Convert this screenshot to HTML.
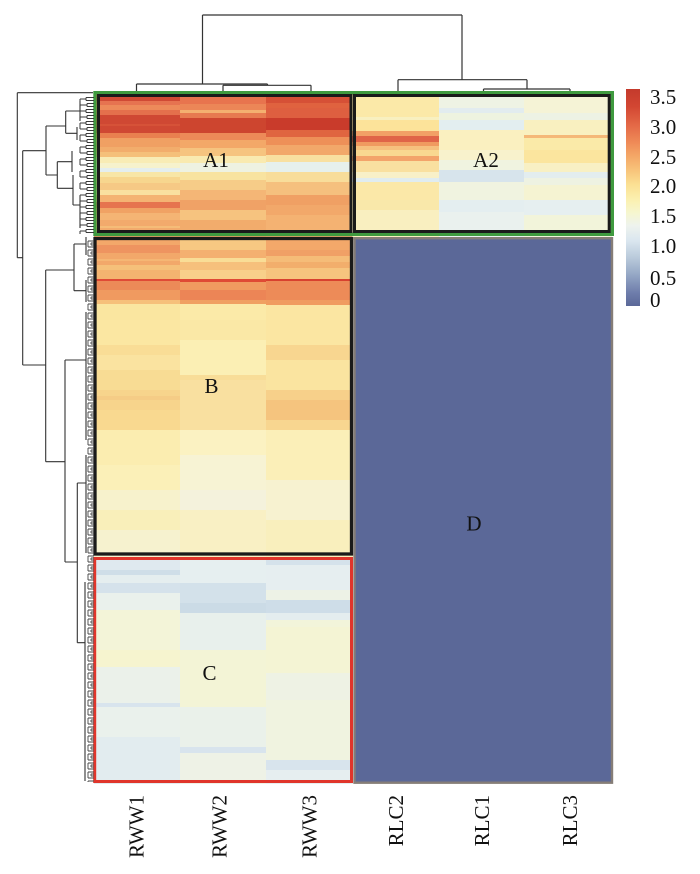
<!DOCTYPE html>
<html><head><meta charset="utf-8"><style>
html,body{margin:0;padding:0;background:#fff;}
#wrap{position:relative;width:700px;height:874px;overflow:hidden;background:#fff;}
.col{position:absolute;top:0;height:784px;}
svg{position:absolute;left:0;top:0;}
text{font-family:"Liberation Serif",serif;fill:#111;}
</style></head><body><div id="wrap">
<div class="col" style="left:94px;width:86px;background:linear-gradient(to bottom,transparent 0 91px,#d04a34 91px 101px,#e67350 101px 105px,#ed8a5a 105px 110px,#e4704c 110px 115px,#cf4833 115px 124px,#d65238 124px 126px,#cf4833 126px 133px,#e9804f 133px 138px,#f0a063 138px 147px,#f2ad6c 147px 152px,#f5c07a 152px 157px,#f8ecb5 157px 163px,#f6f2cc 163px 168px,#e4eeee 168px 172px,#f8e6a6 172px 177px,#f7d68e 177px 183px,#f6c985 183px 190px,#f9e0a0 190px 195px,#f4b373 195px 202px,#e6744f 202px 208px,#f0a264 208px 213px,#f4b474 213px 220px,#f2aa6c 220px 226px,#f5bc78 226px 228px,#f2aa6c 228px 237px,#f3a86a 237px 245px,#ee9460 245px 253px,#f2a86a 253px 259px,#f5b674 259px 261px,#f2a86a 261px 265px,#f5c07a 265px 270px,#f4b470 270px 279px,#e04a36 279px 281px,#ec8a58 281px 290px,#f09a60 290px 300px,#f6c07a 300px 304px,#fae6a0 304px 320px,#fbe7a2 320px 345px,#f9dd96 345px 355px,#fae3a0 355px 370px,#f8dc94 370px 390px,#f7d48c 390px 396px,#f5cc86 396px 400px,#f7d48c 400px 410px,#f9d990 410px 430px,#fbedb0 430px 465px,#fbf0b8 465px 490px,#f7f2cc 490px 510px,#f9efba 510px 530px,#f6f2cf 530px 557px,#dfe9ef 557px 570px,#cfdee8 570px 575px,#e5eeef 575px 583px,#d5e2eb 583px 593px,#eaf1ec 593px 610px,#f3f4d8 610px 650px,#f6f4cf 650px 667px,#ebf1ea 667px 703px,#d8e4ed 703px 707px,#eaf1ec 707px 737px,#e2ecef 737px 784px);"></div>
<div class="col" style="left:180px;width:86px;background:linear-gradient(to bottom,transparent 0 91px,#e8744e 91px 104px,#ec8657 104px 110px,#f4b070 110px 113px,#e77a50 113px 118px,#cd452f 118px 133px,#ed8a58 133px 140px,#f3a868 140px 148px,#f6c47f 148px 156px,#f9eab0 156px 163px,#eef2e2 163px 172px,#f8e3a0 172px 180px,#f6cc88 180px 190px,#f4b676 190px 200px,#f0a266 200px 210px,#f6c37f 210px 220px,#f2ac6c 220px 237px,#f7c882 237px 250px,#f4b070 250px 258px,#f9dd96 258px 262px,#f6c07c 262px 270px,#f8d08a 270px 279px,#df4a35 279px 282px,#f09a60 282px 290px,#ec8556 290px 300px,#f0a062 300px 304px,#fbeaa8 304px 320px,#fae8a6 320px 340px,#fbefb4 340px 375px,#f8dd98 375px 380px,#f9e0a0 380px 430px,#fbf2c2 430px 455px,#f7f3d4 455px 490px,#f4f2dc 490px 510px,#f9f0c4 510px 557px,#e6eff0 557px 583px,#d3e1ea 583px 603px,#cbdbe6 603px 613px,#e8f0ec 613px 650px,#f3f4d6 650px 707px,#eaf1ea 707px 747px,#d8e4ed 747px 753px,#eef2e6 753px 784px);"></div>
<div class="col" style="left:266px;width:87px;background:linear-gradient(to bottom,transparent 0 91px,#d65036 91px 103px,#e0623f 103px 108px,#de5f40 108px 118px,#c93b2b 118px 130px,#e06540 130px 137px,#ee9058 137px 145px,#f2a86a 145px 155px,#f8e0a0 155px 162px,#e6f0ec 162px 172px,#f8dd9a 172px 182px,#f5c07e 182px 195px,#f0a064 195px 205px,#f2a86a 205px 215px,#f4b272 215px 237px,#f3a86a 237px 250px,#f0a066 250px 256px,#f5bc78 256px 262px,#f2ae6c 262px 268px,#f6c47e 268px 279px,#d8412f 279px 281px,#ed8b58 281px 300px,#f09c60 300px 305px,#fbe6a2 305px 345px,#f8d690 345px 360px,#fae4a0 360px 390px,#f7d08a 390px 400px,#f5c47e 400px 420px,#f8d690 420px 430px,#fbefb8 430px 480px,#f7f2d0 480px 520px,#f9efbd 520px 557px,#d5e2eb 557px 565px,#e6eef0 565px 590px,#edf2e6 590px 600px,#cedde8 600px 613px,#e4edef 613px 620px,#f2f4da 620px 627px,#f4f4d4 627px 673px,#eef2e4 673px 700px,#f0f3e0 700px 760px,#d8e4ed 760px 770px,#e6eef0 770px 784px);"></div>
<div class="col" style="left:352px;width:87px;height:240px;background:linear-gradient(to bottom,transparent 0 91px,#fbe9a8 91px 117px,#f8f0c0 117px 120px,#fce39a 120px 131px,#f2a066 131px 136px,#e06448 136px 142px,#f09a60 142px 146px,#f6c07e 146px 150px,#f9d890 150px 156px,#f3a46a 156px 161px,#f9e0a0 161px 172px,#f8f0c8 172px 178px,#e0ecf0 178px 182px,#fbe8a8 182px 200px,#f9e8aa 200px 210px,#f9efc0 210px 240px);"></div>
<div class="col" style="left:439px;width:85px;height:240px;background:linear-gradient(to bottom,transparent 0 91px,#eef3e4 91px 108px,#e2ecef 108px 113px,#eef3e0 113px 120px,#e3eef0 120px 130px,#faf0c0 130px 150px,#f8f2cc 150px 160px,#f0f3e0 160px 170px,#d7e4ec 170px 182px,#f0f3e0 182px 200px,#e4eef0 200px 212px,#eaf1ee 212px 240px);"></div>
<div class="col" style="left:524px;width:88px;height:240px;background:linear-gradient(to bottom,transparent 0 91px,#f5f3d6 91px 113px,#edf2e4 113px 120px,#f9f0c0 120px 135px,#f5b878 135px 138px,#faeaa8 138px 150px,#fbe59e 150px 163px,#f8f0c4 163px 172px,#e3edef 172px 178px,#eef2e2 178px 185px,#f5f3d2 185px 200px,#e6eff0 200px 215px,#f2f4da 215px 240px);"></div>

<svg width="700" height="874" viewBox="0 0 700 874" xmlns="http://www.w3.org/2000/svg">
<defs>
<linearGradient id="cb" x1="0" y1="0" x2="0" y2="1">
<stop offset="0" stop-color="#c43a2c"/>
<stop offset="0.08" stop-color="#d24632"/>
<stop offset="0.17" stop-color="#e46a47"/>
<stop offset="0.25" stop-color="#ef8c58"/>
<stop offset="0.31" stop-color="#f4a867"/>
<stop offset="0.38" stop-color="#f8c67c"/>
<stop offset="0.44" stop-color="#fbe093"/>
<stop offset="0.51" stop-color="#fbf0b0"/>
<stop offset="0.57" stop-color="#f6f6cf"/>
<stop offset="0.63" stop-color="#eef3ee"/>
<stop offset="0.70" stop-color="#dae6ef"/>
<stop offset="0.78" stop-color="#b8c9da"/>
<stop offset="0.86" stop-color="#93a5c4"/>
<stop offset="0.94" stop-color="#6e7dab"/>
<stop offset="1" stop-color="#5b6898"/>
</linearGradient>
<pattern id="pA" patternUnits="userSpaceOnUse" x="78" y="96" width="16" height="12">
<path d="M2 3V9M2 3H8M2 9H9M8 1.5V4.5M8 1.5H16M8 4.5H16M9 7.5V10.5M9 7.5H16M9 10.5H16" stroke="#3a3a3a" stroke-width="1" fill="none"/>
</pattern>
<pattern id="pB" patternUnits="userSpaceOnUse" x="84" y="240" width="10" height="9">
<path d="M4 1V7M4 1H10M4 7H10M7 3V5M7 3H10M7 5H10" stroke="#444" stroke-width="0.9" fill="none"/>
</pattern>
</defs>

<!-- D block -->
<rect x="354.5" y="238.2" width="257.5" height="544.5" fill="#5b6898" stroke="#857d77" stroke-width="2.4"/>

<!-- boxes -->
<rect x="95" y="92.7" width="517.3" height="141.6" fill="none" stroke="#3f9a3f" stroke-width="3.4"/>
<rect x="98.5" y="95.5" width="252.5" height="136" fill="none" stroke="#1a1a1a" stroke-width="3"/>
<rect x="354.5" y="95.5" width="254.7" height="136" fill="none" stroke="#1a1a1a" stroke-width="3"/>
<rect x="95" y="238.5" width="256.5" height="315.5" fill="none" stroke="#1a1a1a" stroke-width="3.3"/>
<rect x="94.7" y="558.5" width="256.8" height="223" fill="none" stroke="#e0352b" stroke-width="3"/>

<!-- top dendrogram -->
<path d="M202.5 15H462M202.5 15V84M462 15V79.7M136.5 84H267.5M136.5 84V91M267.5 84V85.3M223 85.3H311M223 85.3V91M311 85.3V91M398 79.7H527M398 79.7V91M527 79.7V89M483.5 89H570M483.5 89V91M570 89V91" stroke="#333" stroke-width="1.2" fill="none"/>

<!-- left dendrogram main -->
<path d="M17.3 92.7H93M17.3 92.7V257.7M17.3 257.7H22.7M22.7 150.7V365M22.7 150.7H46M46 126V175M46 126H65.7M65.7 111V133.3M65.7 111H80M80 101V121M65.7 133.3H77M77 127V140M46 175H57.3M57.3 161.7V188.3M57.3 161.7H72M72 151V172M57.3 188.3H73M73 175V205M73 205H80M80 196V214M80 214V228M22.7 365H45.7M45.7 270V461.7M45.7 270H74M74 244V290.7M74 244H86M86 237V255M74 290.7H86M86 280V302M45.7 461.7H65M65 360V562M65 360H86M86 312V440M65 562H77.3M77.3 483V642.7M77.3 483H86M86 455V520M77.3 642.7H85M85 582V763M86 520V553M85 763V781" stroke="#333" stroke-width="1.1" fill="none"/>
<!-- fine leaves -->
<rect x="78" y="96" width="16" height="138" fill="url(#pA)"/>
<rect x="84" y="240" width="10" height="542" fill="url(#pB)"/>

<!-- colorbar -->
<rect x="626" y="89" width="14" height="217" fill="url(#cb)"/>
<g font-size="21">
<text x="650" y="104">3.5</text>
<text x="650" y="134">3.0</text>
<text x="650" y="164">2.5</text>
<text x="650" y="193">2.0</text>
<text x="650" y="223">1.5</text>
<text x="650" y="253">1.0</text>
<text x="650" y="285">0.5</text>
<text x="650" y="307">0</text>
</g>

<!-- block labels -->
<g font-size="21" text-anchor="middle">
<text x="216" y="167">A1</text>
<text x="486" y="167">A2</text>
<text x="211.5" y="393">B</text>
<text x="209.5" y="680">C</text>
<text x="474" y="530.5">D</text>
</g>

<!-- column labels -->
<g font-size="21" text-anchor="end">
<text transform="translate(143.3,795) rotate(-90)">RWW1</text>
<text transform="translate(226.7,795) rotate(-90)">RWW2</text>
<text transform="translate(316.7,795) rotate(-90)">RWW3</text>
<text transform="translate(403,795) rotate(-90)">RLC2</text>
<text transform="translate(489,795) rotate(-90)">RLC1</text>
<text transform="translate(577,795) rotate(-90)">RLC3</text>
</g>
</svg>
</div></body></html>
